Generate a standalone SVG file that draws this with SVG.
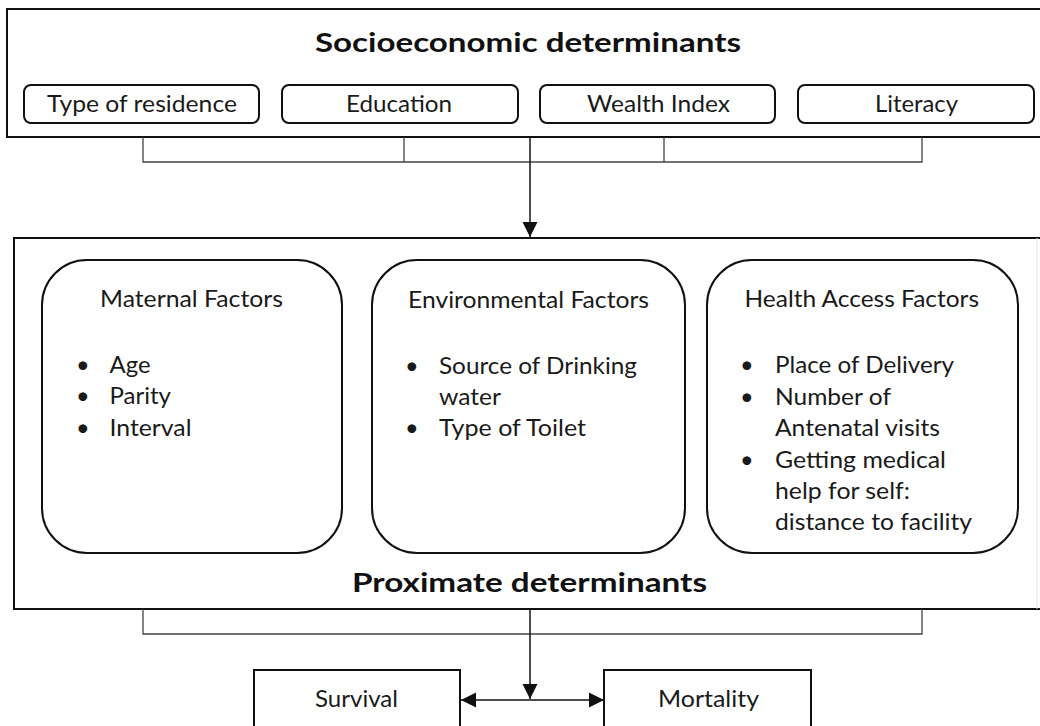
<svg xmlns="http://www.w3.org/2000/svg" width="1040" height="726" viewBox="0 0 1040 726">
<style>
.box{fill:none;stroke:#111;stroke-width:2}
.rbox{fill:none;stroke:#111;stroke-width:2}
.con{fill:none;stroke:#444;stroke-width:1.3}
.arr{fill:none;stroke:#111;stroke-width:1.5}
.t{font-family:Lato,"Open Sans","Liberation Sans",sans-serif;font-size:23.5px;fill:#1a1a1a}
.b{font-family:Lato,"Open Sans","Liberation Sans",sans-serif;font-size:27px;font-weight:bold;fill:#111}
</style>
<defs>
<marker id="ah" markerUnits="userSpaceOnUse" markerWidth="16" markerHeight="16" refX="15" refY="8" orient="auto-start-reverse" viewBox="0 0 16 16">
<path d="M0,0.5 L15,8 L0,15.5 z" fill="#111"/>
</marker>
</defs>
<rect width="1040" height="726" fill="#fff"/>

<g id="socioeconomic">
<rect class="box" x="7" y="9" width="1045" height="128"/>
<text class="b" x="315" y="52" textLength="426" lengthAdjust="spacingAndGlyphs">Socioeconomic determinants</text>
</g>
<g id="residence">
<rect class="rbox" x="24" y="85" width="235" height="38" rx="7"/>
<text class="t" x="47" y="112" textLength="190" lengthAdjust="spacingAndGlyphs">Type of residence</text>
</g>
<g id="education">
<rect class="rbox" x="282" y="85" width="236" height="38" rx="7"/>
<text class="t" x="346" y="112" textLength="106" lengthAdjust="spacingAndGlyphs">Education</text>
</g>
<g id="wealth">
<rect class="rbox" x="540" y="85" width="235" height="38" rx="7"/>
<text class="t" x="587" y="112" textLength="143" lengthAdjust="spacingAndGlyphs">Wealth Index</text>
</g>
<g id="literacy">
<rect class="rbox" x="798" y="85" width="236" height="38" rx="7"/>
<text class="t" x="875" y="112" textLength="83" lengthAdjust="spacingAndGlyphs">Literacy</text>
</g>

<g id="proximate">
<rect class="box" x="14" y="238" width="1040" height="371"/>
<line x1="1037" y1="238" x2="1037" y2="609" stroke="#e2e2e2" stroke-width="1"/>
<text class="b" x="352" y="592" textLength="355" lengthAdjust="spacingAndGlyphs">Proximate determinants</text>
</g>
<g id="maternal">
<rect class="rbox" x="42" y="260" width="300" height="293" rx="45"/>
<text class="t" x="100" y="307" textLength="183" lengthAdjust="spacingAndGlyphs">Maternal Factors</text>
<text class="t" x="76" y="373">•</text>
<text class="t" x="109.5" y="373" textLength="41" lengthAdjust="spacingAndGlyphs">Age</text>
<text class="t" x="76" y="404">•</text>
<text class="t" x="109.5" y="404" textLength="61.5" lengthAdjust="spacingAndGlyphs">Parity</text>
<text class="t" x="76" y="436">•</text>
<text class="t" x="109.5" y="436" textLength="82" lengthAdjust="spacingAndGlyphs">Interval</text>
</g>
<g id="environmental">
<rect class="rbox" x="372" y="260" width="313" height="293" rx="45"/>
<text class="t" x="408" y="308" textLength="241" lengthAdjust="spacingAndGlyphs">Environmental Factors</text>
<text class="t" x="405" y="374">•</text>
<text class="t" x="439" y="374" textLength="198" lengthAdjust="spacingAndGlyphs">Source of Drinking</text>
<text class="t" x="439" y="405" textLength="62" lengthAdjust="spacingAndGlyphs">water</text>
<text class="t" x="405" y="436">•</text>
<text class="t" x="439" y="436" textLength="147" lengthAdjust="spacingAndGlyphs">Type of Toilet</text>
</g>
<g id="health">
<rect class="rbox" x="707" y="260" width="311" height="293" rx="45"/>
<text class="t" x="744.5" y="307" textLength="234.5" lengthAdjust="spacingAndGlyphs">Health Access Factors</text>
<text class="t" x="740" y="373">•</text>
<text class="t" x="775" y="373" textLength="179" lengthAdjust="spacingAndGlyphs">Place of Delivery</text>
<text class="t" x="740" y="405">•</text>
<text class="t" x="775" y="405" textLength="116" lengthAdjust="spacingAndGlyphs">Number of</text>
<text class="t" x="775" y="436" textLength="165" lengthAdjust="spacingAndGlyphs">Antenatal visits</text>
<text class="t" x="740" y="468">•</text>
<text class="t" x="775" y="468" textLength="171" lengthAdjust="spacingAndGlyphs">Getting medical</text>
<text class="t" x="775" y="499" textLength="135" lengthAdjust="spacingAndGlyphs">help for self:</text>
<text class="t" x="775" y="530" textLength="197" lengthAdjust="spacingAndGlyphs">distance to facility</text>
</g>

<g id="survival">
<rect class="box" x="254" y="670" width="206" height="80"/>
<text class="t" x="315" y="707" textLength="83" lengthAdjust="spacingAndGlyphs">Survival</text>
</g>
<g id="mortality">
<rect class="box" x="604" y="670" width="207" height="80"/>
<text class="t" x="658" y="707" textLength="101" lengthAdjust="spacingAndGlyphs">Mortality</text>
</g>

<g id="connectors">
<path class="con" d="M143,137 V162 H922 V137 M404,137 V162 M664,137 V162"/>
<line class="arr" x1="530" y1="137" x2="530" y2="237" marker-end="url(#ah)"/>
<path class="con" d="M143,609 V634 H922 V609"/>
<line class="arr" x1="530" y1="609" x2="530" y2="699" marker-end="url(#ah)"/>
<line class="arr" x1="461" y1="700" x2="604" y2="700" marker-start="url(#ah)" marker-end="url(#ah)"/>
</g>
</svg>
